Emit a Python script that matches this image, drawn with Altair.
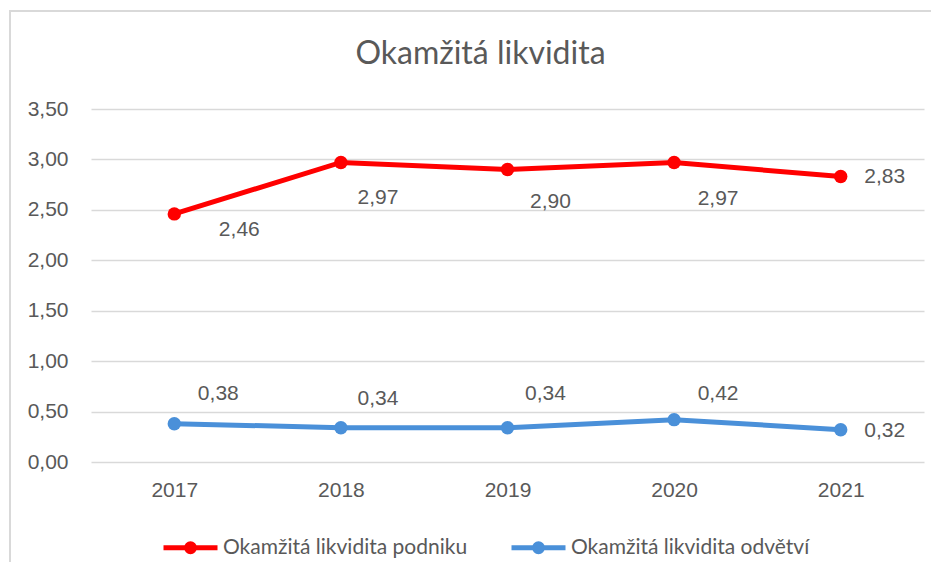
import altair as alt
import pandas as pd

# ---- data ----
years = [2017, 2018, 2019, 2020, 2021]
podnik = [2.46, 2.97, 2.90, 2.97, 2.83]
odvetvi = [0.38, 0.34, 0.34, 0.42, 0.32]
series_names = ["Okamžitá likvidita podniku", "Okamžitá likvidita odvětví"]
y_ticks = [0, 0.5, 1.0, 1.5, 2.0, 2.5, 3.0, 3.5]
chart_title = "Okamžitá likvidita"

# ---- style ----
series_colors = ["#FF0000", "#4A90D9"]
# data-label offsets in pixels (dx, dy) per point
label_dx = {series_names[0]: [65, 37, 43, 44, 44], series_names[1]: [44, 37, 38, 44, 44]}
label_dy = {series_names[0]: [16, 36, 32, 37, 0], series_names[1]: [-30, -29, -34, -26, 1]}

W, H = 833, 353
X_DOMAIN = [2016.5, 2021.5]
Y_DOMAIN = [0, 3.5]
px_x = W / (X_DOMAIN[1] - X_DOMAIN[0])
px_y = H / (Y_DOMAIN[1] - Y_DOMAIN[0])
GRAY = "#595959"

rows = []
for name, vals in zip(series_names, [podnik, odvetvi]):
    for i, (yr, v) in enumerate(zip(years, vals)):
        rows.append(dict(
            year=yr, value=v, series=name,
            label=f"{v:.2f}".replace(".", ","),
            lx=yr + label_dx[name][i] / px_x,
            ly=v - label_dy[name][i] / px_y,
        ))
df = pd.DataFrame(rows)

x_scale = alt.Scale(domain=X_DOMAIN, nice=False, zero=False)
y_scale = alt.Scale(domain=Y_DOMAIN, nice=False)
x_axis = alt.Axis(values=years, format="d", ticks=False, domain=False, grid=False,
                  labelPadding=17, title=None)
y_axis = alt.Axis(values=y_ticks, ticks=False, domain=False, grid=True,
                  gridColor="#d9d9d9", gridWidth=1.3, labelPadding=23, title=None,
                  labelExpr="replace(format(datum.value, '.2f'), '.', ',')")

legend_path = ("M-5.4,0L5.4,0"
               "M0.8,0A0.8,0.8,0,1,1,-0.8,0A0.8,0.8,0,1,1,0.8,0"
               "M0.2,0A0.2,0.2,0,1,1,-0.2,0A0.2,0.2,0,1,1,0.2,0")
color = alt.Color(
    "series:N",
    scale=alt.Scale(domain=series_names, range=series_colors),
    legend=alt.Legend(
        title=None, orient="none", legendX=89, legendY=428, direction="horizontal",
        symbolType=legend_path, symbolSize=100, symbolStrokeWidth=5,
        labelFont="Lato", labelFontSize=21, labelColor=GRAY,
        labelOffset=22, columnPadding=33, labelLimit=400,
    ),
    sort=series_names,
)

base = alt.Chart(df)
lines = base.mark_line(strokeWidth=5).encode(
    x=alt.X("year:Q", scale=x_scale, axis=x_axis),
    y=alt.Y("value:Q", scale=y_scale, axis=y_axis),
    color=color,
    detail="series:N",
)
points = base.mark_circle(size=180, opacity=1).encode(
    x=alt.X("year:Q", scale=x_scale, axis=x_axis),
    y=alt.Y("value:Q", scale=y_scale, axis=y_axis),
    color=color,
)
labels = base.mark_text(font="Liberation Sans", fontSize=21, color=GRAY,
                        align="center", baseline="middle").encode(
    x=alt.X("lx:Q", scale=x_scale, axis=x_axis),
    y=alt.Y("ly:Q", scale=y_scale, axis=y_axis),
    text="label:N",
)

one = alt.Data(values=[{"a": 1}])
border_left = alt.Chart(one).mark_rule(color="#d9d9d9", strokeWidth=2).encode(
    x=alt.value(-81), y=alt.value(-99), y2=alt.value(470))
border_top = alt.Chart(one).mark_rule(color="#d9d9d9", strokeWidth=2).encode(
    x=alt.value(-81), x2=alt.value(850), y=alt.value(-98))

chart = alt.layer(border_left, border_top, lines, points, labels).properties(
    width=W, height=H,
    title=alt.Title(chart_title, font="Lato", fontSize=32, color=GRAY,
                    fontWeight="normal", anchor="middle", dx=-27, offset=-87,
                    baseline="alphabetic"),
    padding={"left": 83, "top": 101, "right": 7, "bottom": 100},
    autosize=alt.AutoSizeParams(type="none"),
).configure_axis(
    labelFont="Liberation Sans", labelFontSize=21, labelColor=GRAY,
).configure_view(stroke=None)

chart.save("out.html", embed_options={"renderer": "svg", "actions": False})
